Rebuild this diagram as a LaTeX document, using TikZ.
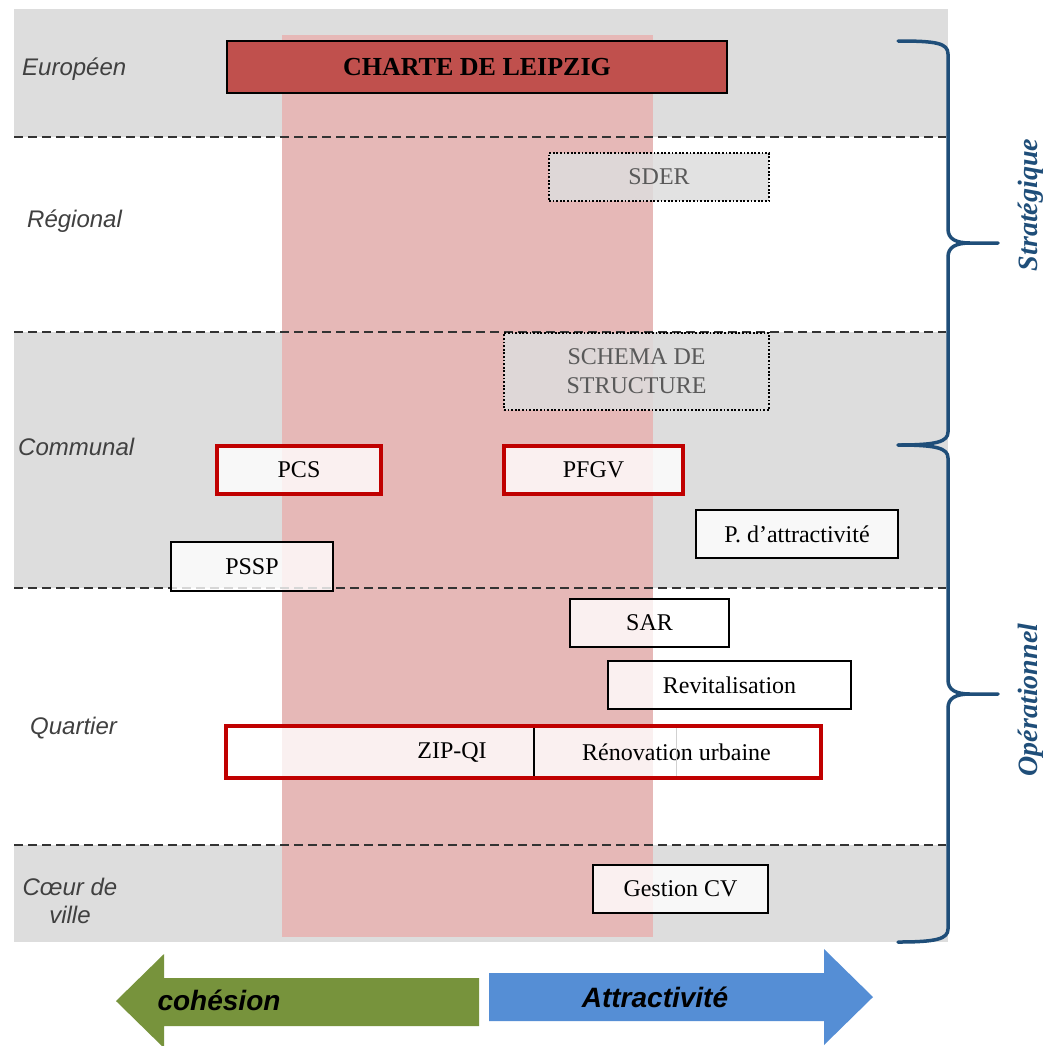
\documentclass[tikz,border=0pt]{standalone}
\usepackage{fontspec}
\setmainfont{Liberation Serif}
\setsansfont{Liberation Sans}
\definecolor{bandgray}{HTML}{DDDDDD}
\definecolor{pinkcol}{HTML}{E6B8B7}
\definecolor{chartered}{HTML}{C0504D}
\definecolor{redline}{HTML}{C00000}
\definecolor{dashcol}{HTML}{333333}
\definecolor{lvlgray}{HTML}{404040}
\definecolor{dotgray}{HTML}{595959}
\definecolor{braceblue}{HTML}{1F4E79}
\definecolor{arrgreen}{HTML}{77933C}
\definecolor{arrblue}{HTML}{558ED5}
\tikzset{
  box/.style={draw=black, line width=2pt, fill=white, fill opacity=0.8, text opacity=1,
    inner sep=0pt, font=\fontsize{24}{28}\selectfont},
  redbox/.style={box, draw=redline, line width=3.5pt},
  dotbox/.style={draw=black, line width=1.8pt, dash pattern=on 1.8pt off 1.8pt,
    fill=bandgray, fill opacity=0.85, text opacity=1, text=dotgray, inner sep=0pt,
    align=center, font=\fontsize{24}{29}\selectfont},
  lvl/.style={text=lvlgray, inner sep=0pt, font=\fontsize{24}{28}\selectfont\sffamily\itshape},
  sep/.style={draw=dashcol, line width=2.8pt, dash pattern=on 9pt off 5pt},
  bracepath/.style={draw=braceblue, line width=3.5pt, line join=round, line cap=round},
  bracetxt/.style={text=braceblue, inner sep=0pt, font=\fontsize{28}{32}\selectfont\bfseries\itshape},
  arrtxt/.style={text=black, inner sep=0pt, font=\fontsize{28}{32}\selectfont\sffamily\bfseries\itshape}
}
\begin{document}
\begin{tikzpicture}[x=1pt,y=-1pt]
\useasboundingbox (0,0) rectangle (1046,1045);
\fill[white] (0,0) rectangle (1046,1045);
% bands
\fill[bandgray] (14,9) rectangle (948,137);
\fill[bandgray] (14,332) rectangle (948,588);
\fill[bandgray] (14,845) rectangle (948,942);
% pink column
\fill[pinkcol] (282,35) rectangle (653,937);
% separators
\draw[sep] (14,137) -- (946,137);
\draw[sep] (14,332) -- (946,332);
\draw[sep] (14,588) -- (946,588);
\draw[sep] (14,845) -- (946,845);
% level labels
\node[lvl, anchor=west] (eur) at (22,69) {Européen};
\node[lvl, anchor=west] (reg) at (27,221) {Régional};
\node[lvl, anchor=west] (com) at (18,447) {Communal};
\node[lvl, anchor=west] (qua) at (30,728) {Quartier};
\node[lvl, align=center] (cdv) at (70,901) {Cœur de\\ville};
% boxes
\node[draw=black, line width=2.5pt, fill=chartered, inner sep=0pt, minimum width=500pt, minimum height=52pt,
  font=\fontsize{26}{30}\selectfont\bfseries] (charte) at (477,67) {CHARTE DE LEIPZIG};
\node[dotbox, minimum width=220pt, minimum height=48pt] (sder) at (659,177) {SDER};
\node[dotbox, minimum width=265pt, minimum height=77pt] (schema) at (636.5,371.5) {SCHEMA DE\\STRUCTURE};
\node[redbox, minimum width=164pt, minimum height=48pt] (pcs) at (299,470) {PCS};
\node[redbox, minimum width=179pt, minimum height=48pt] (pfgv) at (593.5,470) {PFGV};
\node[box, minimum width=202pt, minimum height=48pt] (pattr) at (797,534) {P. d’attractivité};
\node[box, minimum width=162pt, minimum height=49pt] (pssp) at (252,566.5) {PSSP};
\node[box, minimum width=159pt, minimum height=48pt] (sar) at (649.5,623) {SAR};
\node[box, minimum width=243pt, minimum height=48pt] (revit) at (729.5,685) {Revitalisation};
\node[box, draw=none, minimum width=306pt, minimum height=50pt] (zip) at (380,752) {\hspace*{144pt}ZIP-QI};
\node[box, draw=none, minimum width=287pt, minimum height=50pt] (renov) at (676.5,752) {Rénovation urbaine};
\draw[black!18, line width=1pt] (renov.north) -- (renov.south);
\draw[black, line width=2pt] (zip.north east) -- (zip.south east);
\draw[redline, line width=3.5pt] (zip.north west) rectangle (renov.south east);
\node[box, minimum width=175pt, minimum height=48pt] (gcv) at (680.5,889) {Gestion CV};
% braces
\draw[bracepath] (898,41) .. controls (936,41) and (948,43) .. (948,54)
  -- (948,229) .. controls (948,239) and (956,243) .. (970,243) -- (998,243)
  -- (970,243) .. controls (956,243) and (948,247) .. (948,257)
  -- (948,432) .. controls (948,442) and (936,445) .. (898,445);
\draw[bracepath] (898,445) .. controls (936,445) and (948,448) .. (948,458)
  -- (948,680) .. controls (948,690) and (956,694) .. (970,694) -- (998,694)
  -- (970,694) .. controls (956,694) and (948,698) .. (948,708)
  -- (948,929) .. controls (948,939) and (936,942) .. (898,942);
\node[bracetxt, rotate=90] (strat) at (1031,205) {Stratégique};
\node[bracetxt, rotate=90] (oper) at (1031,700) {Opérationnel};
% bottom arrows
\fill[arrgreen] (479,978) -- (164,978) -- (164,954) -- (116,1001) -- (164,1048) -- (164,1026) -- (479,1026) -- cycle;
\fill[arrblue] (489,973) -- (824,973) -- (824,949) -- (873,997) -- (824,1045) -- (824,1021) -- (489,1021) -- cycle;
\node[arrtxt] (coh) at (219,1000) {cohésion};
\node[arrtxt] (att) at (655,997) {Attractivité};
\end{tikzpicture}
\end{document}
